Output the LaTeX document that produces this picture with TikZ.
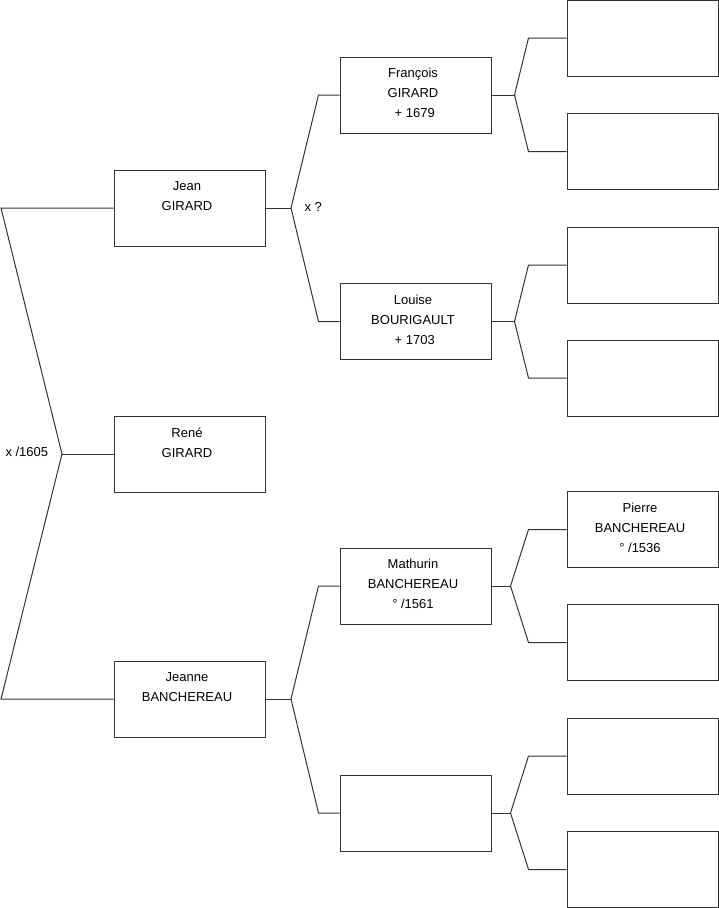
\documentclass[tikz,border=0pt]{standalone}
\usepackage{fontspec}
\setmainfont{Liberation Sans}
\usepackage{tikz}

\begin{document}
\begin{tikzpicture}[x=1pt, y=-1pt, line width=1pt,
	every node/.style={font=\fontsize{13}{20}\selectfont},
	box/.style={draw=black!80, minimum width=151pt, minimum height=76pt, inner sep=0pt},
	boxtext/.style={anchor=north, align=center, inner sep=0pt, yshift=-11.5pt, xshift=-2.5pt},
	link/.style={draw=black!80}]
	\useasboundingbox (0,0) rectangle (719,908);
	% generation 1
	\node[box, label={[boxtext]north:{Jean\\GIRARD}}] (jean) at (189.5,208) {};
	\node[box, label={[boxtext]north:{René\\GIRARD}}] (rene) at (189.5,454) {};
	\node[box, label={[boxtext]north:{Jeanne\\BANCHEREAU}}] (jeanne) at (189.5,699) {};
	% generation 2
	\node[box, label={[boxtext]north:{François\\GIRARD\\\ + 1679}}] (francois) at (415.5,95) {};
	\node[box, label={[boxtext]north:{Louise\\BOURIGAULT\\\ + 1703}}] (louise) at (415.5,321.5) {};
	\node[box, label={[boxtext]north:{Mathurin\\BANCHEREAU\\° /1561}}] (mathurin) at (415.5,586) {};
	\node[box] (anon) at (415.5,813) {};
	% generation 3
	\node[box] (g1) at (642.5,38) {};
	\node[box] (g2) at (642.5,151.5) {};
	\node[box] (g3) at (642.5,265) {};
	\node[box] (g4) at (642.5,378) {};
	\node[box, label={[boxtext]north:{Pierre\\BANCHEREAU\\° /1536}}] (pierre) at (642.5,529.5) {};
	\node[box] (g6) at (642.5,642.5) {};
	\node[box] (g7) at (642.5,756) {};
	\node[box] (g8) at (642.5,869.5) {};
	% unions
	\coordinate (f0) at (62,454);
	\coordinate (f0a) at (1,208);
	\coordinate (f0b) at (1,699);
	\draw[link] (jean.west) -- (f0a) -- (f0) -- (f0b) -- (jeanne.west);
	\draw[link] (f0) -- (rene.west);
	\node[anchor=west, inner sep=0pt] (m0) at (5,452) {x /1605};
	\coordinate (f1) at (291,208);
	\draw[link] (jean.east) -- (f1);
	\draw[link] (francois.west) -- ++(-21,0) -- (f1) -- ([xshift=-21pt]louise.west) -- (louise.west);
	\node[anchor=west, inner sep=0pt] (m1) at (304,207) {x ?};
	\coordinate (f2) at (291,699);
	\draw[link] (jeanne.east) -- (f2);
	\draw[link] (mathurin.west) -- ++(-21,0) -- (f2) -- ([xshift=-21pt]anon.west) -- (anon.west);
	\foreach \p/\a/\b/\d in {francois/g1/g2/23, louise/g3/g4/23, mathurin/pierre/g6/19, anon/g7/g8/19} {
		\draw[link] (\p.east) -- ++(\d,0) coordinate (f\p);
		\draw[link] (\a.west) -- ++(-38,0) -- (f\p) -- ([xshift=-38pt]\b.west) -- (\b.west);
	}
\end{tikzpicture}
\end{document}
